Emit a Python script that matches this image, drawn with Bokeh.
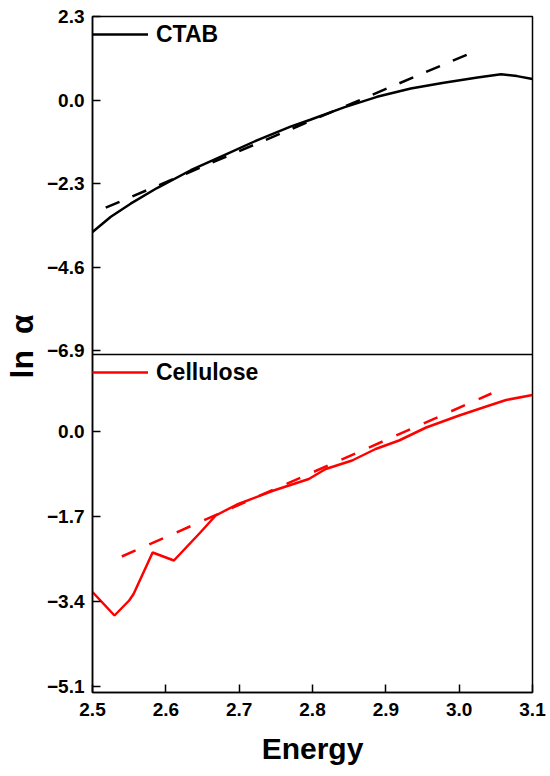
from bokeh.plotting import figure
from bokeh.models import Range1d, FixedTicker, Span, Legend, LegendItem, Title
from bokeh.embed import file_html
from bokeh.resources import INLINE

# ---------------- data ----------------
ctab_energy = [2.500, 2.525, 2.552, 2.588, 2.634, 2.679, 2.725, 2.770, 2.797,
               2.843, 2.888, 2.934, 2.979, 3.025, 3.057, 3.079, 3.100]
ctab_ln_alpha = [-3.63, -3.21, -2.85, -2.42, -1.93, -1.52, -1.10, -0.73, -0.54,
                 -0.20, 0.09, 0.32, 0.48, 0.62, 0.71, 0.66, 0.58]
ctab_fit_energy = [2.518, 3.020]
ctab_fit_ln_alpha = [-2.96, 1.33]

cell_energy = [2.500, 2.530, 2.550, 2.556, 2.582, 2.611, 2.647, 2.668, 2.697, 2.747,
               2.795, 2.818, 2.854, 2.886, 2.918, 2.955, 3.000, 3.041, 3.064, 3.100]
cell_ln_alpha = [-3.22, -3.69, -3.39, -3.26, -2.43, -2.59, -2.03, -1.69, -1.47, -1.19,
                 -0.96, -0.76, -0.59, -0.36, -0.19, 0.07, 0.31, 0.51, 0.62, 0.72]
cell_fit_energy = [2.540, 3.044]
cell_fit_ln_alpha = [-2.51, 0.75]

series_names = ["CTAB", "Cellulose"]

x_lim = (2.5, 3.1)
top_ylim = (-7.0, 2.3)     # upper panel (CTAB)
bot_ylim = (-5.23, 1.53)   # lower panel (Cellulose)

x_ticks = [2.5, 2.6, 2.7, 2.8, 2.9, 3.0, 3.1]
x_tick_labels = ["2.5", "2.6", "2.7", "2.8", "2.9", "3.0", "3.1"]
top_ticks = [2.3, 0.0, -2.3, -4.6, -6.9]
top_tick_labels = ["2.3", "0.0", "\u22122.3", "\u22124.6", "\u22126.9"]
bot_ticks = [0.0, -1.7, -3.4, -5.1]
bot_tick_labels = ["0.0", "\u22121.7", "\u22123.4", "\u22125.1"]

RED = "#ff0000"
FONT = "Liberation Sans"

# ---------------- figure: one frame, two stacked panels ----------------
top_span = top_ylim[1] - top_ylim[0]
bot_span = bot_ylim[1] - bot_ylim[0]

p = figure(frame_width=440, frame_height=676,
           min_border_left=92, min_border_right=16, min_border_top=16, min_border_bottom=82,
           x_range=Range1d(*x_lim),
           y_range=Range1d(top_ylim[0] - top_span, top_ylim[1]),
           output_backend="svg", toolbar_location=None)
p.extra_y_ranges = {"bot": Range1d(bot_ylim[0], bot_ylim[1] + bot_span)}
p.grid.visible = False
p.outline_line_color = "black"
p.outline_line_width = 1.5
p.outline_line_alpha = 1.0
p.background_fill_color = "white"
p.border_fill_color = "white"


def bot_to_axis(v):
    # position of a lower-panel value on the shared left axis
    return top_ylim[0] - (bot_ylim[1] - v) * top_span / bot_span


bot_tick_pos = [bot_to_axis(v) for v in bot_ticks]

p.xaxis.ticker = FixedTicker(ticks=x_ticks)
p.xaxis.major_label_overrides = dict(zip(x_ticks, x_tick_labels))
p.yaxis.ticker = FixedTicker(ticks=top_ticks + bot_tick_pos)
p.yaxis.major_label_overrides = dict(zip(top_ticks + bot_tick_pos,
                                         top_tick_labels + bot_tick_labels))

for ax in [p.xaxis[0], p.yaxis[0]]:
    ax.major_tick_in = 8
    ax.major_tick_out = 0
    ax.minor_tick_in = 0
    ax.minor_tick_out = 0
    ax.major_tick_line_width = 1.5
    ax.axis_line_width = 1.5
    ax.axis_line_color = "black"
    ax.major_tick_line_color = "black"
    ax.major_label_text_font = FONT
    ax.major_label_text_font_style = "bold"
    ax.major_label_text_font_size = "19px"
    ax.major_label_text_color = "black"
    ax.major_label_standoff = 8

p.xaxis.major_label_standoff = 10
p.xaxis.axis_label = "Energy"
p.xaxis.axis_label_text_font = FONT
p.xaxis.axis_label_text_font_style = "bold"
p.xaxis.axis_label_text_font_size = "30px"
p.xaxis.axis_label_text_color = "black"
p.xaxis.axis_label_standoff = 13

# y axis title, placed in the left side panel
p.add_layout(Title(text="ln\u2002\u03b1", align="left", offset=314, vertical_align="top",
                   standoff=4, text_font=FONT, text_font_style="bold",
                   text_font_size="32px", text_color="black"), "left")

# divider between the two panels
p.add_layout(Span(location=top_ylim[0], dimension="width", line_color="black", line_width=1.5))

# ---------------- lines ----------------
r_ctab = p.line(ctab_energy, ctab_ln_alpha, line_color="black", line_width=2.5)
p.line(ctab_fit_energy, ctab_fit_ln_alpha, line_color="black", line_width=2.5, line_dash="15 14")
r_cell = p.line(cell_energy, cell_ln_alpha, line_color=RED, line_width=2.5, y_range_name="bot")
p.line(cell_fit_energy, cell_fit_ln_alpha, line_color=RED, line_width=2.5, line_dash="15 15",
       y_range_name="bot")

legend = Legend(items=[LegendItem(label=series_names[0], renderers=[r_ctab]),
                       LegendItem(label=series_names[1], renderers=[r_cell])],
                location="top_left", spacing=302, glyph_width=56, glyph_height=36,
                label_height=36, label_standoff=8, padding=0, margin=0,
                border_line_alpha=0, background_fill_alpha=0,
                label_text_font=FONT, label_text_font_style="bold",
                label_text_font_size="23px", label_text_color="black")
p.add_layout(legend)

open("out.html", "w").write(file_html(p, INLINE))
